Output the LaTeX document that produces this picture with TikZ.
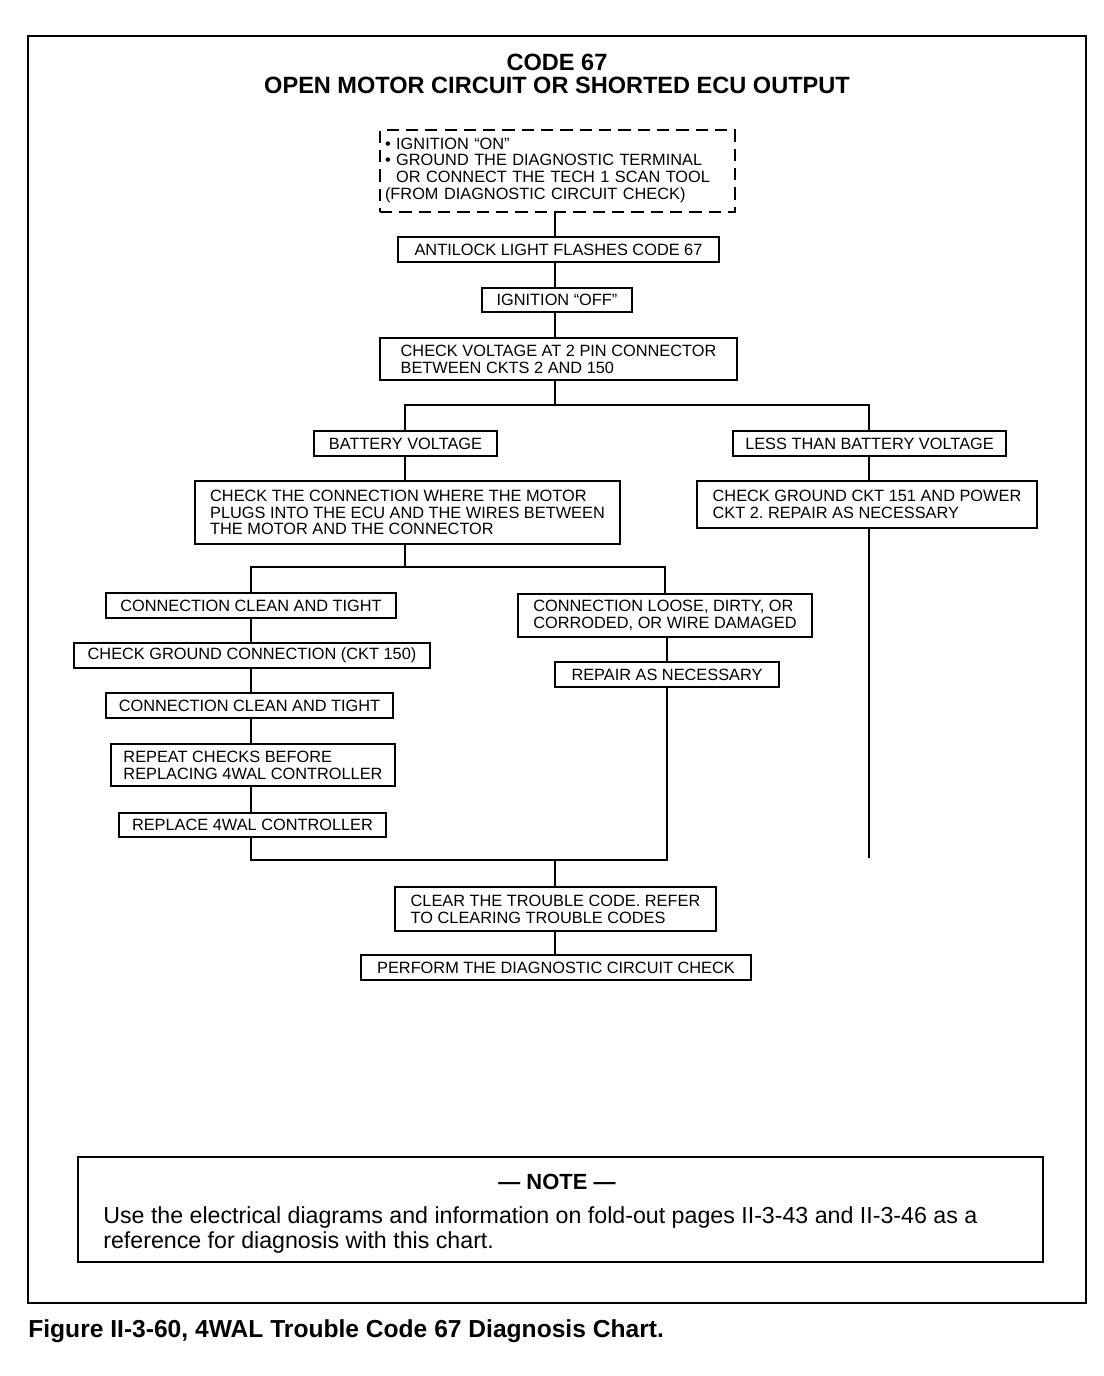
\documentclass[tikz,border=0pt]{standalone}
\usepackage{fontspec}
\setmainfont{Liberation Sans}
\usetikzlibrary{positioning, calc}
\frenchspacing

\begin{document}
\begin{tikzpicture}[x=0.02cm, y=-0.02cm]
\tikzset{box/.style={draw, rectangle, line width=0.9pt, inner sep=0pt, minimum height=0.5cm, font=\fontsize{9.3}{9.6}\selectfont},
         tbox/.style={box, align=left},
         link/.style={draw, line width=0.8pt}}
\useasboundingbox (0,0) rectangle (1104,1376);
% outer frame
\draw[line width=1.6pt] (28,36) rectangle (1086,1303);
\node[align=center, font=\bfseries\fontsize{13.4}{13}\selectfont] (title) at (557,73.5) {CODE 67\\OPEN MOTOR CIRCUIT OR SHORTED ECU OUTPUT};
% chart
\node[tbox, dashed, dash pattern=on 7pt off 4pt, minimum width=7.1cm, minimum height=1.64cm, text width=6.9cm] (start) at (557.5,171) {\begin{tabular}{@{}l@{}}\textbullet\ IGNITION “ON”\\\textbullet\ GROUND THE DIAGNOSTIC TERMINAL\\\phantom{\textbullet\ }OR CONNECT THE TECH 1 SCAN TOOL\\(FROM DIAGNOSTIC CIRCUIT CHECK)\end{tabular}};
\node[box, minimum width=6.42cm] (anti) at (558.5,249.5) {ANTILOCK LIGHT FLASHES CODE 67};
\node[box, minimum width=3cm, minimum height=0.48cm] (ignoff) at (557,300) {IGNITION “OFF”};
\node[tbox, minimum width=7.14cm, minimum height=0.84cm] (checkv) at (558.5,359) {CHECK VOLTAGE AT 2 PIN CONNECTOR\\BETWEEN CKTS 2 AND 150};
\node[box, minimum width=3.66cm] (batt) at (405.5,443.5) {BATTERY VOLTAGE};
\node[box, minimum width=5.46cm] (less) at (869.5,443.5) {LESS THAN BATTERY VOLTAGE};
\node[tbox, minimum width=8.5cm, minimum height=1.26cm] (checkc) at (407.5,512.5) {CHECK THE CONNECTION WHERE THE MOTOR\\PLUGS INTO THE ECU AND THE WIRES BETWEEN\\THE MOTOR AND THE CONNECTOR};
\node[tbox, minimum width=6.8cm, minimum height=0.94cm] (checkg) at (867,504.5) {CHECK GROUND CKT 151 AND POWER\\CKT 2. REPAIR AS NECESSARY};
\node[box, minimum width=5.8cm] (clean1) at (251,605.5) {CONNECTION CLEAN AND TIGHT};
\node[box, minimum width=7.12cm] (gnd) at (252,655.5) {CHECK GROUND CONNECTION (CKT 150)};
\node[box, minimum width=5.74cm] (clean2) at (249.5,705.5) {CONNECTION CLEAN AND TIGHT};
\node[tbox, minimum width=5.68cm, minimum height=0.84cm] (repeat) at (253,765) {REPEAT CHECKS BEFORE\\REPLACING 4WAL CONTROLLER};
\node[box, minimum width=5.34cm, minimum height=0.48cm] (replace) at (252.5,825) {REPLACE 4WAL CONTROLLER};
\node[tbox, minimum width=5.88cm, minimum height=0.86cm] (loose) at (665,615.5) {CONNECTION LOOSE, DIRTY, OR\\CORRODED, OR WIRE DAMAGED};
\node[box, minimum width=4.48cm] (repair) at (667,674.5) {REPAIR AS NECESSARY};
\node[tbox, minimum width=6.42cm, minimum height=0.88cm] (clear) at (555.5,909) {CLEAR THE TROUBLE CODE. REFER\\TO CLEARING TROUBLE CODES};
\node[box, minimum width=7.8cm] (perform) at (556,967.5) {PERFORM THE DIAGNOSTIC CIRCUIT CHECK};
% connectors
\coordinate (fk1) at (555,405);
\coordinate (fk2) at (405,567);
\coordinate (jn) at (555,860);
\coordinate (gend) at (869,858);
\draw[link] (start.south -| fk1) -- (anti.north -| fk1);
\draw[link] (anti.south -| fk1) -- (ignoff.north -| fk1); \draw[link] (ignoff.south -| fk1) -- (checkv.north -| fk1);
\draw[link] (checkv.south -| fk1) -- (fk1);
\draw[link] (batt.north -| fk2) |- (fk1) -| (less.north -| gend);
\draw[link] (batt.south -| fk2) -- (checkc.north -| fk2);
\draw[link] (less.south -| gend) -- (checkg.north -| gend);
\draw[link] (checkg.south -| gend) -- (gend);
\draw[link] (checkc.south -| fk2) -- (fk2);
\draw[link] (clean1.north) |- (fk2) -| (loose.north);
\draw[link] (clean1) -- (gnd.north -| clean1); \draw[link] (gnd.south -| clean1) -- (clean2.north -| clean1);
\draw[link] (clean2.south -| clean1) -- (repeat.north -| clean1); \draw[link] (repeat.south -| clean1) -- (replace.north -| clean1);
\draw[link] (loose.south -| repair) -- (repair);
\draw[link] (replace.south -| clean1) |- (jn) -| (repair.south);
\draw[link] (jn) -- (clear.north -| jn); \draw[link] (clear.south -| jn) -- (perform.north -| jn);
% note
\draw[line width=1pt] (78,1157) rectangle (1043,1262);
\node[font=\bfseries\fontsize{12.5}{12.5}\selectfont] (notehead) at (557,1182) {— NOTE —};
\node[anchor=north west, align=left, inner sep=0pt, font=\fontsize{13.2}{14.2}\selectfont] (notetext) at (103,1206) {Use the electrical diagrams and information on fold-out pages II-3-43 and II-3-46 as a\\reference for diagnosis with this chart.};
\node[anchor=west, inner sep=0pt, font=\bfseries\fontsize{14}{14}\selectfont] (caption) at (28,1331) {Figure II-3-60, 4WAL Trouble Code 67 Diagnosis Chart.};
\end{tikzpicture}
\end{document}
